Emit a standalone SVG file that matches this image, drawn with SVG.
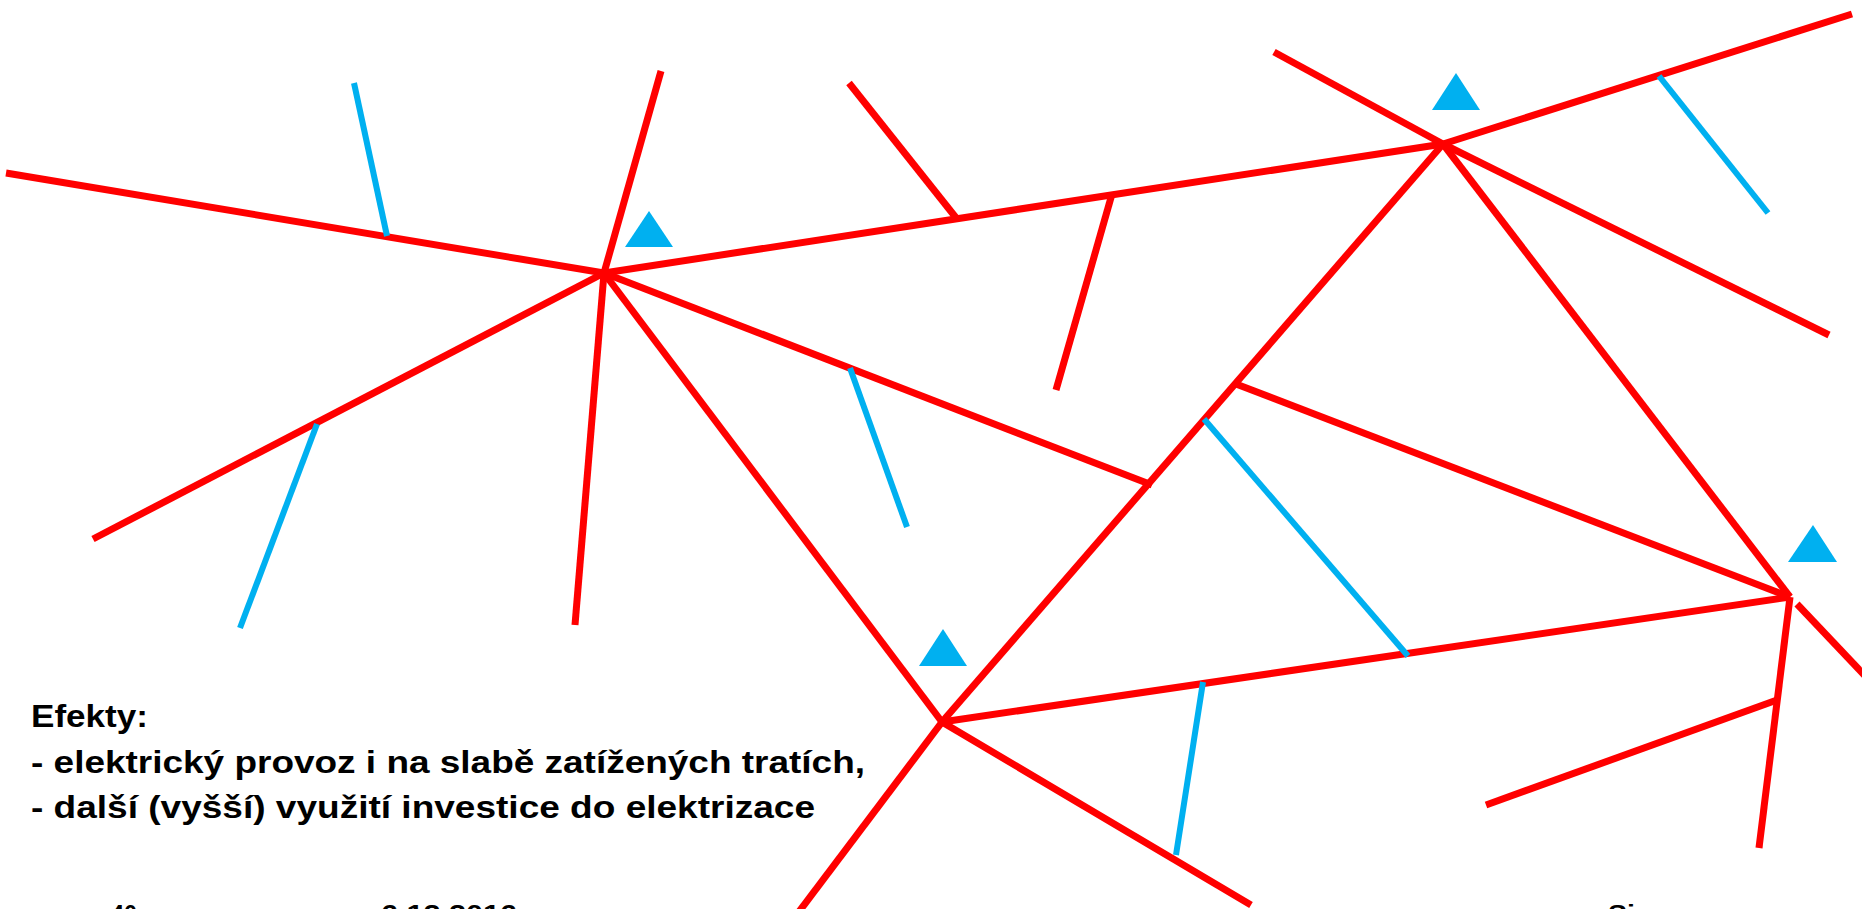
<svg xmlns="http://www.w3.org/2000/svg" width="1862" height="909" viewBox="0 0 1862 909">
<style>
.r{stroke:#FF0000;stroke-width:7;fill:none}
.b{stroke:#00B0F0;stroke-width:6;fill:none}
.t{fill:#00B0F0}
.tx{font-family:"Liberation Sans",Arial,sans-serif;font-weight:bold;font-size:32px;fill:#000}
.ft{font-family:"Liberation Sans",Arial,sans-serif;font-weight:bold;font-size:24px;fill:#000}
</style>
<rect width="1862" height="909" fill="#fff"/>
<g id="connectors">
<line class="r" x1="6" y1="173" x2="604" y2="273"/>
<line class="r" x1="661" y1="71" x2="604" y2="273"/>
<line class="r" x1="93" y1="539" x2="604" y2="273"/>
<line class="r" x1="575" y1="625" x2="604" y2="273"/>
<line class="r" x1="604" y1="273" x2="942" y2="722"/>
<line class="r" x1="604" y1="273" x2="1152" y2="485"/>
<line class="r" x1="604" y1="273" x2="1443" y2="144"/>
<line class="r" x1="849" y1="83" x2="957" y2="219"/>
<line class="r" x1="1112" y1="194" x2="1056" y2="390"/>
<line class="r" x1="1274" y1="52" x2="1443" y2="144"/>
<line class="r" x1="1443" y1="144" x2="1852" y2="14"/>
<line class="r" x1="1443" y1="144" x2="1829" y2="335"/>
<line class="r" x1="1443" y1="144" x2="1790" y2="597"/>
<line class="r" x1="1443" y1="144" x2="942" y2="722"/>
<line class="r" x1="1236" y1="384" x2="1790" y2="597"/>
<line class="r" x1="942" y1="722" x2="1790" y2="597"/>
<line class="r" x1="942" y1="722" x2="795" y2="917"/>
<line class="r" x1="942" y1="722" x2="1251" y2="905"/>
<line class="r" x1="1790" y1="597" x2="1759" y2="848"/>
<line class="r" x1="1486" y1="805" x2="1777" y2="700"/>
<line class="r" x1="1797" y1="604" x2="1870" y2="681"/>
<line class="b" x1="354" y1="83" x2="387" y2="236"/>
<line class="b" x1="317" y1="424" x2="240" y2="628"/>
<line class="b" x1="850" y1="368" x2="907" y2="527"/>
<line class="b" x1="1659" y1="76" x2="1768" y2="213"/>
<line class="b" x1="1204" y1="419" x2="1408" y2="656"/>
<line class="b" x1="1203" y1="682" x2="1176" y2="855"/>
</g>
<g id="stations">
<polygon id="st1" class="t" points="649,211 625,247 673,247"/>
<polygon id="st2" class="t" points="1456,73 1432,110 1480,110"/>
<polygon id="st3" class="t" points="943,629 919,666 967,666"/>
<polygon id="st4" class="t" points="1813,525 1788,562 1837,562"/>
</g>
<g id="text">
<text class="tx" x="31" y="727" textLength="117" lengthAdjust="spacingAndGlyphs">Efekty:</text>
<text class="tx" x="31" y="773" textLength="834" lengthAdjust="spacingAndGlyphs">- elektrický provoz i na slabě zatížených tratích,</text>
<text class="tx" x="31" y="818" textLength="784" lengthAdjust="spacingAndGlyphs">- další (vyšší) využití investice do elektrizace</text>
</g>
<g id="footer">
<text class="ft" x="111" y="922" textLength="26" lengthAdjust="spacingAndGlyphs">40</text>
<text class="ft" x="381" y="922" textLength="136" lengthAdjust="spacingAndGlyphs">6.12.2016</text>
<text class="ft" x="1608" y="922" textLength="27" lengthAdjust="spacingAndGlyphs">Si</text>
</g>
</svg>
